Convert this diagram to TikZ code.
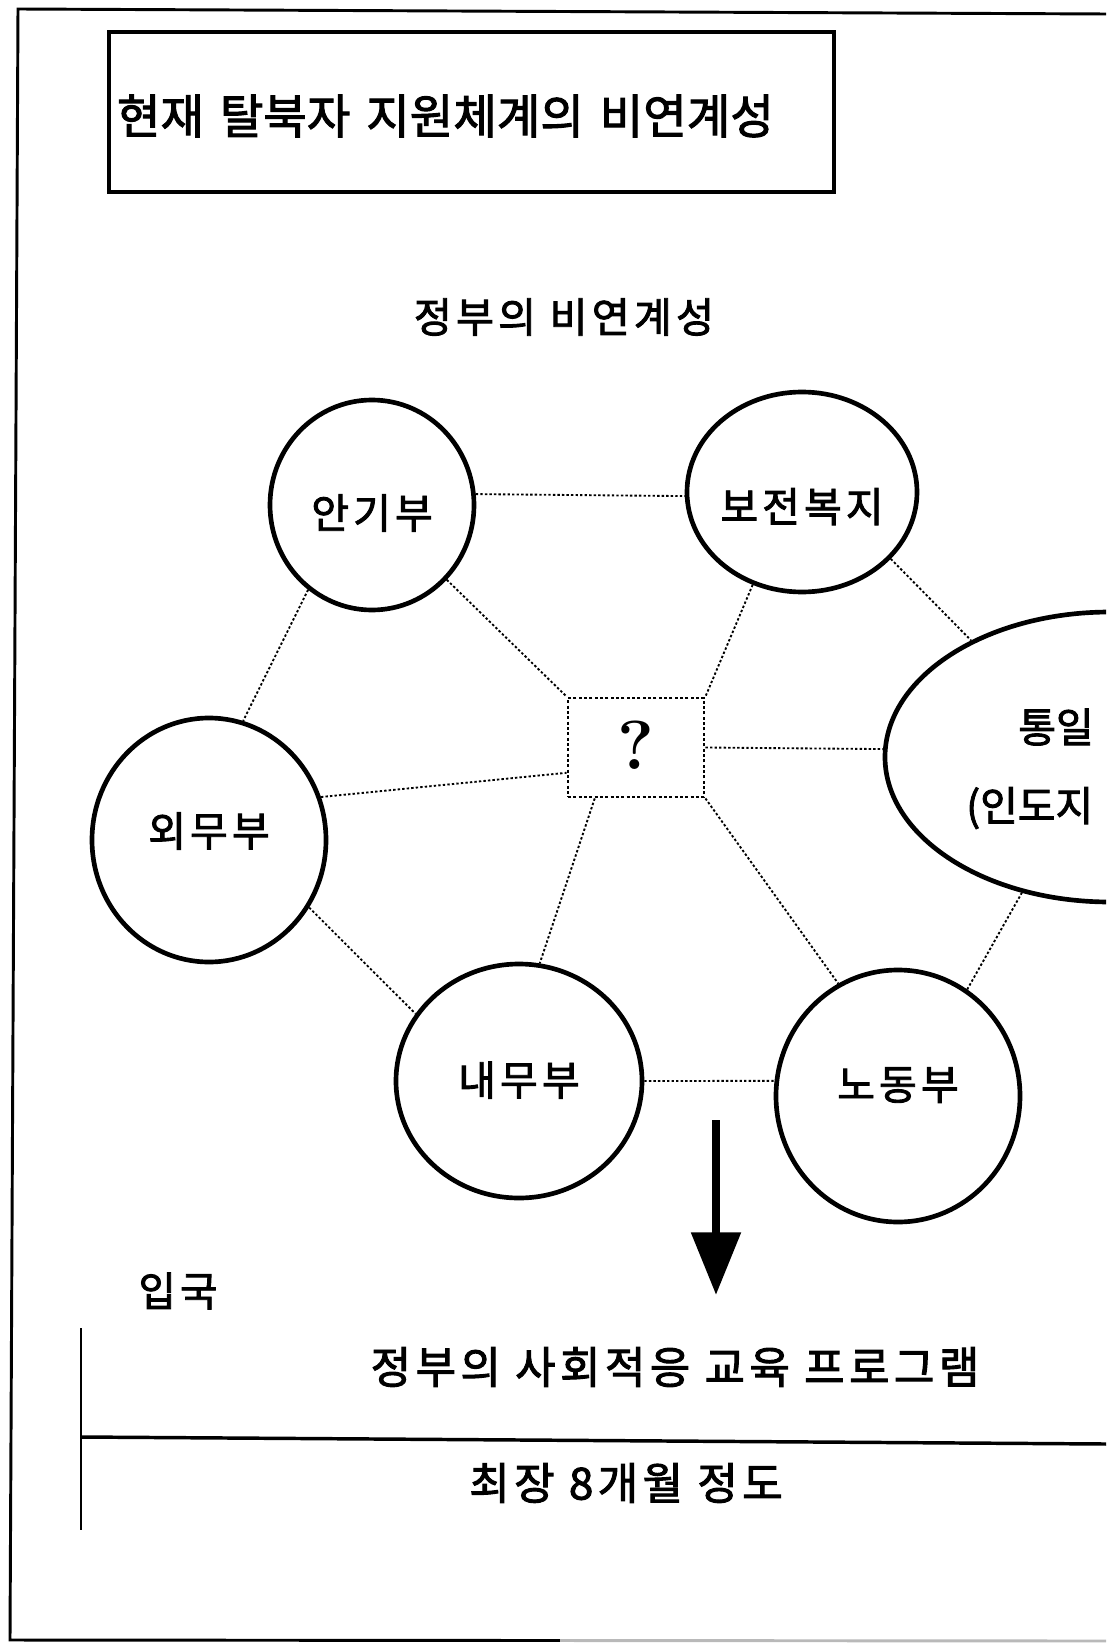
\documentclass[tikz,border=0pt]{standalone}
\usepackage{fontspec}
\newfontfamily\kr{Noto Sans CJK KR}[FakeBold=2.2]
\newfontfamily\krw{Noto Sans CJK KR}[FakeBold=2.2,LetterSpace=10]
\usetikzlibrary{shapes.geometric,arrows.meta}
\begin{document}
\begin{tikzpicture}[x=0.75pt,y=-0.75pt,
  org/.style={ellipse, draw, line width=3.5pt, inner sep=0pt},
  lbl/.style={font=\krw\fontsize{30.75pt}{36pt}\selectfont, inner sep=0pt},
  clbl/.style={font=\kr\fontsize{30.75pt}{36pt}\selectfont, inner sep=0pt},
  link/.style={line width=1.4pt, dash pattern=on 1.8pt off 1.6pt},
  qbox/.style={draw, line width=2.2pt, dash pattern=on 2.2pt off 1.8pt, inner sep=0pt,
    font=\fontsize{52pt}{52pt}\selectfont\bfseries},
  frameline/.style={line width=2.2pt},
  txt/.style={font=\krw\fontsize{#1}{#1}\selectfont, inner sep=0pt}
]
\useasboundingbox (0,0) rectangle (1106,1644);
\clip (0,0) rectangle (1106,1644);

% outer frame
\coordinate (f1) at (18,9);
\coordinate (f2) at (1106,14);
\coordinate (f3) at (10,1640);
\coordinate (fm) at (560,1640.5);
\coordinate (f4) at (1106,1641);
\draw[frameline] (f2) -- (f1) -- (f3) -- (fm);
\draw[frameline, gray!55] (fm) -- (f4);

% title box
\node[draw, line width=3pt, minimum width=543.75pt, minimum height=120pt,
  inner xsep=6pt, text width=531.75pt, align=left, anchor=north west,
  font=\kr\fontsize{35.5pt}{36pt}\selectfont] (T) at (107,30) {\raisebox{-3pt}[\height][\depth]{현재 탈북자 지원체계의 비연계성}};

\node[txt=31pt] (S) at (564,317) {정부의 비연계성};

% organisations
\node[org, minimum width=153pt, minimum height=157.5pt,
  label={[lbl, name=Alab, yshift=-6pt]center:안기부}] (A) at (372,505) {};
\node[org, minimum width=172.5pt, minimum height=150pt,
  label={[lbl, name=Blab, yshift=-11pt]center:보전복지}] (B) at (802,492) {};
\node[org, minimum width=337.5pt, minimum height=217.5pt] (C) at (1110,757) {};
\node[clbl, anchor=west] (C1) at (1018,727) {통일};
\node[clbl, anchor=west] (C2) at (966,808) {(인도지};
\node[org, minimum width=175.5pt, minimum height=183pt,
  label={[lbl, name=Dlab, yshift=6.75pt]center:외무부}] (D) at (209,840) {};
\node[org, minimum width=184.5pt, minimum height=175.5pt,
  label={[lbl, name=Elab, yshift=0.75pt]center:내무부}] (E) at (519,1081) {};
\node[org, minimum width=183pt, minimum height=189pt,
  label={[lbl, name=Flab, yshift=8.25pt]center:노동부}] (F) at (898,1096) {};
\node[qbox, minimum width=102pt, minimum height=74.25pt] (Q) at (636,747.5) {\raisebox{3pt}{?}};

% dotted links
\draw[link] (A.6) -- (B.182);
\draw[link] (A.233) -- (D.74);
\draw[link] (A.-45) -- (Q.north west);
\draw[link] (B.242) -- (Q.north east);
\draw[link] (B.-37) -- (C.140);
\draw[link] (Q.east) -- (C.178);
\draw[link] (D.21) -- (Q.200);
\draw[link] (D.-34) -- (E.147);
\draw[link] (Q.231) -- (E.80);
\draw[link] (Q.south east) -- (F.118);
\draw[link] (E.0) -- (F.173);
\draw[link] (F.57) -- (C.237);

% big arrow
\coordinate (arrS) at (716,1120);
\coordinate (arrE) at (716,1295);
\draw[line width=6.5pt, -{Triangle[width=36pt,length=47pt]}] (arrS) -- (arrE);

% bottom timeline
\node[txt=30.5pt] (entry) at (178,1291) {입국};
\coordinate (v1) at (81,1328);
\coordinate (v2) at (81,1530);
\coordinate (h1) at (81,1437);
\coordinate (h2) at (1106,1444);
\draw[line width=1.5pt] (v1) -- (v2);
\draw[line width=2.6pt] (h1) -- (h2);
\node[txt=33pt] (prog) at (675,1367) {정부의 사회적응 교육 프로그램};
\node[txt=33pt] (dur) at (626,1483) {최장 8개월 정도};
\end{tikzpicture}
\end{document}
